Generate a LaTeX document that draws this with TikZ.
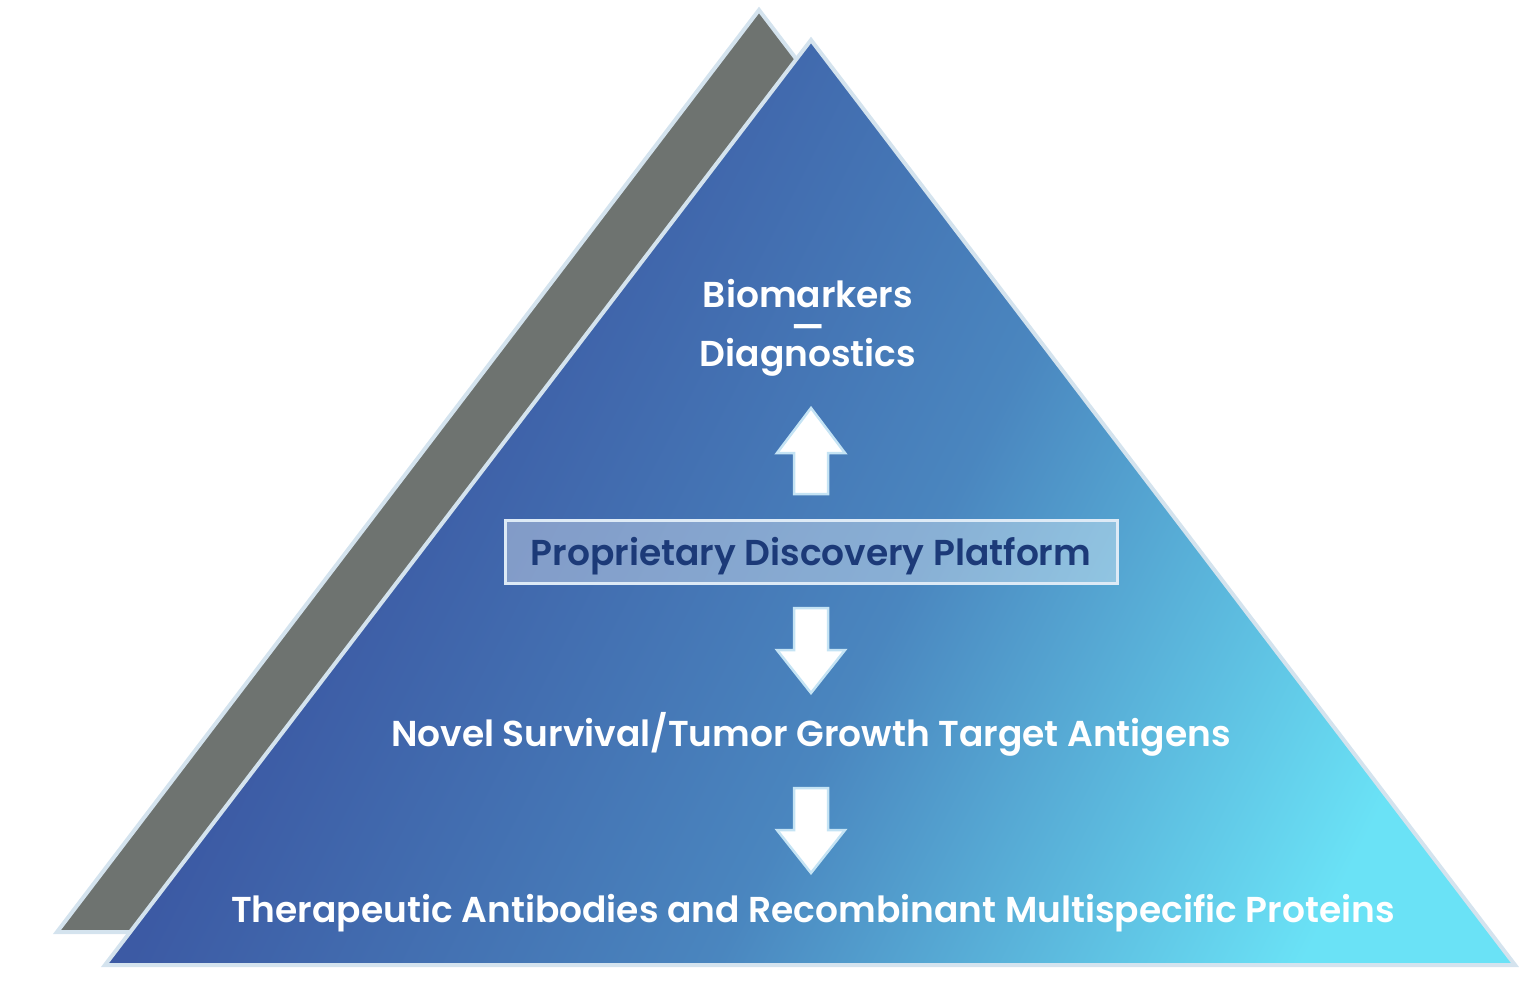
\documentclass[tikz,border=0pt]{standalone}
\usepackage{fontspec}
\setmainfont{Poppins}[BoldFont={Poppins SemiBold}]
\usetikzlibrary{calc}
\definecolor{cA}{HTML}{3C5AA4}
\definecolor{cB}{HTML}{4A86BF}
\definecolor{cC}{HTML}{6AE2F6}
\definecolor{grayband}{HTML}{6E7370}
\definecolor{rim}{HTML}{D4E3EE}
\definecolor{arrowrim}{HTML}{C4E3F4}
\definecolor{navy}{HTML}{1C3A78}
\definecolor{boxrim}{HTML}{DDEAF6}
\pgfdeclarehorizontalshading{trishade}{100bp}{color(0bp)=(cA); color(34bp)=(cA); color(55bp)=(cB); color(76bp)=(cC); color(100bp)=(cC)}
\tikzset{
  lbl/.style={text=white, font=\fontsize{36}{36}\selectfont\bfseries, inner sep=0pt, anchor=base},
  blockarrow/.style={fill=white, draw=arrowrim, line width=2.5pt, line join=miter},
  platform/.style={draw=boxrim, line width=3pt, fill=white, fill opacity=0.35, text opacity=1,
    text=navy, font=\fontsize{36}{36}\selectfont\bfseries, minimum width=612pt, minimum height=63pt,
    inner sep=0pt, text height=27pt, text depth=0pt}
}
\begin{document}
\begin{tikzpicture}[x=1pt,y=-1pt]
\useasboundingbox (0,0) rectangle (1540,987);
% back (gray) triangle
\coordinate (gA) at (759,10);
\coordinate (gL) at (57,932);
\coordinate (gR) at (1461,932);
\filldraw[fill=grayband, draw=rim, line width=4pt, line join=miter] (gA) -- (gL) -- (gR) -- cycle;
% front (blue) triangle
\coordinate (bA) at (811,40);
\coordinate (bL) at (105,965);
\coordinate (bR) at (1515,965);
\shade[shading=trishade, shading angle=-27] (bA) -- (bL) -- (bR) -- cycle;
\draw[draw=rim, line width=4pt, line join=miter] (bA) -- (bL) -- (bR) -- cycle;
% labels
\node[lbl] (bio) at (808,307) {Biomarkers};
\node[lbl, text height=3pt, text depth=0pt] (dash) at (808,339) {—};
\node[lbl] (diag) at (808,366) {Diagnostics};
\node[platform] (plat) at (811,551.5) {Proprietary Discovery Platform};
\node[lbl] (novel) at (811,746) {Novel Survival/Tumor Growth Target Antigens};
\node[lbl] (ther) at (813,922) {Therapeutic Antibodies and Recombinant Multispecific Proteins};
% block arrows
\draw[blockarrow] (811,408) -- (845,453) -- (828,453) -- (828,494) -- (794,494) -- (794,453) -- (777,453) -- cycle;
\draw[blockarrow] (794,608) -- (828,608) -- (828,650) -- (845,650) -- (811,693) -- (777,650) -- (794,650) -- cycle;
\draw[blockarrow] (794,788) -- (828,788) -- (828,830) -- (845,830) -- (811,873) -- (777,830) -- (794,830) -- cycle;
\end{tikzpicture}
\end{document}
